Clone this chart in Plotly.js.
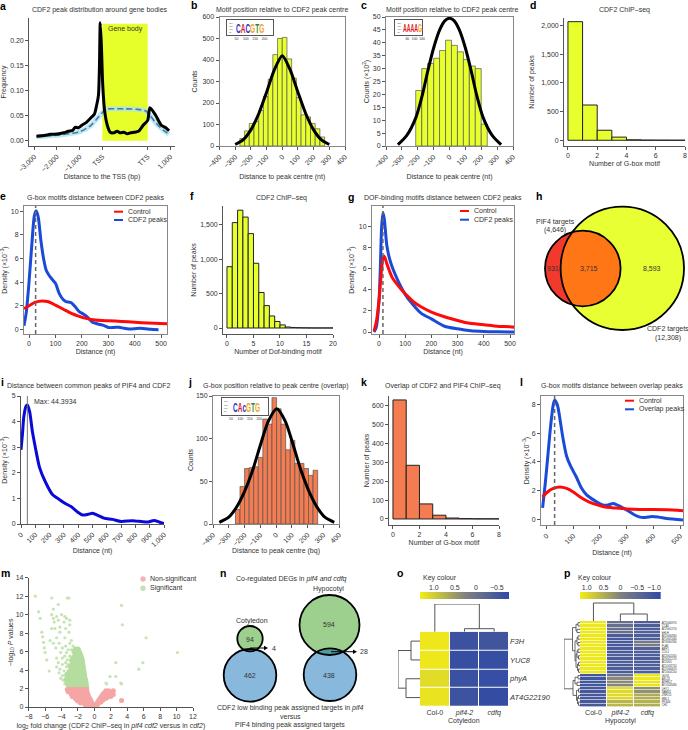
<!DOCTYPE html>
<html>
<head>
<meta charset="utf-8">
<script src="https://cdn.plot.ly/plotly-3.0.1.min.js"></script>
<style>
body{margin:0;background:#fff}
</style>
</head>
<body>
<div id="fig" style="width:688px;height:730px"></div>
<script>
// a: peak distribution around gene bodies (TSS = 0, TTS = 2000)
var aX = [-2900,-2700,-2500,-2300,-2100,-1900,-1700,-1500,-1300,-1200,-1050,-900,-700,-500,-350,-250,-170,-125,-90,-40,20,100,220,350,500,650,800,950,1100,1250,1400,1600,1800,2000,2100,2350,2600,2800,2940];
var aPeaks = [.008,.009,.01,.012,.012,.013,.015,.018,.02,.026,.025,.03,.036,.045,.052,.07,.09,.15,.235,.19,.11,.06,.03,.016,.015,.018,.015,.016,.013,.015,.016,.018,.03,.04,.065,.05,.03,.025,.019];
var aGenesX = [-2900,-2000,-1500,-1000,-500,-200,0,150,500,1000,1500,1900,2100,2300,2500,2700,2940];
var aGenes = [.007,.01,.013,.017,.03,.045,.055,.062,.063,.063,.062,.059,.05,.038,.028,.02,.012];
// b: G-box position histogram
var bX = [-255,-225,-195,-165,-135,-105,-75,-45,-15,15,45,75,105,135,165,195,225,255];
var bCounts = [35,70,105,115,165,230,310,425,500,505,405,315,225,145,135,105,80,42];
var bFitX = [-300,-250,-200,-150,-100,-50,0,50,100,150,200,250,300];
var bFit = [7,28,75,150,250,355,420,355,250,150,75,28,7];
// c: DOF motif histogram
var cX = [-194,-156,-119,-81,-44,-6,31,69,106,144,181,219];
var cCounts = [21.5,30,32,34,37,41,39,36.5,33.5,31,30,8.5];
var cFitX = [-325,-270,-212,-170,-137,-100,-62,-30,0,30,62,100,137,170,212,270,325];
var cFit = [.5,4,11,20,29,38,45,48.5,49.5,48.5,45,38,29,20,11,4,.5];
// d, f, k: motif counts per peak
var dX = [.5,1.5,2.5,3.5,4.5,5.5,6.5,7.5];
var dCounts = [2070,615,175,55,8,3,2,1];
var fX = [.5,1.5,2.5,3.5,4.5,5.5,6.5,7.5,8.5,9.5,10.5,11.5,12.5,13.5,14.5,15.5,16.5,17.5,18.5,19.5];
var fCounts = [890,1530,1710,1610,1370,940,515,325,175,95,45,15,8,5,3,2,1,1,1,1];
var kX = [.5,1.5,2.5,3.5,4.5,5.5,6.5,7.5];
var kCounts = [632,285,80,20,5,2,1,1];
// e: G-box distances
var eBlueX = [-19,-10,0,10,20,27,35,45,55,65,75,85,100,115,130,140,160,175,190,205,220,240,260,280,300,320,340,360,380,400,420,440,460,490];
var eBlue = [.3,1.5,4,7,9.6,10.05,9.5,7.5,6,5,4.6,4.3,3.9,3,2.5,2.35,2.25,1.9,1.5,1.3,1.05,.6,.45,.35,.15,.15,.18,.08,.03,.05,.08,.05,0,-.03];
var eRedX = [-19,0,25,50,70,100,130,160,190,220,250,300,350,400,450,522];
var eRed = [1.75,2,2.3,2.4,2.35,2.05,1.7,1.35,1.1,.9,.78,.72,.67,.6,.53,.47];
var ePeak = 25;
// g: DOF distances
var gBlueX = [-19,-10,0,5,10,15,20,30,40,50,70,90,110,130,160,200,250,300,350,400,450,520];
var gBlue = [0,.5,3,6,10,11.35,10.8,8.2,7,6.2,5,4,3.2,2.6,1.8,1.25,.55,.3,.12,.05,.02,0];
var gRedX = [-19,-10,0,5,10,15,20,30,40,50,70,90,110,130,160,200,250,300,340,400,450,500,520];
var gRed = [.1,1,3,4.5,6,7,7.2,6.5,5.8,5.2,4.5,3.9,3.4,2.9,2.4,1.9,1.45,1.1,.85,.7,.55,.5,.45];
var gPeak = 15;
// i: common peaks of PIF4 and CDF2
var iX = [0,10,20,35,44,60,80,100,130,170,220,270,310,350,400,430,470,500,540,580,640,700,780,850,890,930,970,1000];
var iDensity = [2.9,3.5,4.2,4.6,4.65,4.4,3.6,3,2.2,1.65,1.15,.95,.8,.68,.45,.35,.38,.42,.33,.23,.18,.1,.13,.09,.08,.14,.07,.02];
var iMax = 44.3934;
// j: overlap G-box histogram
var jX = [-243,-214,-185,-156,-127,-98,-69,-40,-11,18,47,76,105,134,163,192,221,250];
var jCounts = [17,44,65,66,67,78,123,117,148,135,117,87,98,71,71,65,57,63];
var jFitX = [-360,-300,-250,-200,-150,-100,-50,5,60,110,160,210,260,310,370];
var jFit = [2,8,20,38,62,92,120,135,120,92,62,38,20,8,2];
// l: overlap distances
var lBlueX = [-15,-5,5,15,25,30,40,50,60,75,90,110,130,150,180,210,230,250,270,300,330,350,370,395,420,450,480,511];
var lBlue = [.8,2.5,4.5,6.5,8,8.3,8,7,5.8,4.4,3.7,3,2.2,1.7,1.3,1,1,1.1,.95,.65,.3,.15,.13,.2,.15,.05,0,-.05];
var lRedX = [-15,0,25,50,75,100,130,160,190,220,260,300,350,400,450,511];
var lRed = [1.55,1.85,2.15,2.25,2.15,1.9,1.5,1.2,1,.85,.78,.72,.68,.68,.66,.6];
var lPeak = 30;
// m: volcano, rows of [-log10 P, fold changes]
var sigCore = [
  [2.05,[-.95,-1.2,-1.45,-1.7,-1.95,-2.2,-2.45,-2.7,-2.95]],
  [2.35,[-1,-1.3,-1.55,-1.85,-2.1,-2.35,-2.6,-2.9,-3.15]],
  [2.65,[-1.05,-1.35,-1.6,-1.9,-2.15,-2.4,-2.7,-3,-3.3]],
  [2.95,[-1.1,-1.4,-1.7,-1.95,-2.25,-2.5,-2.8,-3.1,-3.4]],
  [3.25,[-1.2,-1.45,-1.75,-2,-2.3,-2.6,-2.85,-3.2]],
  [3.55,[-1.25,-1.5,-1.8,-2.1,-2.35,-2.65,-2.95,-3.3]],
  [3.85,[-1.3,-1.55,-1.85,-2.15,-2.45,-2.7,-3.05]],
  [4.15,[-1.35,-1.6,-1.9,-2.2,-2.5,-2.8]],
  [4.45,[-1.4,-1.7,-2,-2.3,-2.6,-2.9]],
  [4.75,[-1.45,-1.75,-2.05,-2.35,-2.65]],
  [5.05,[-1.5,-1.8,-2.1,-2.4,-2.75]],
  [5.35,[-1.6,-1.9,-2.2,-2.55]],
  [5.65,[-1.7,-2,-2.3]],
  [5.95,[-1.85,-2.15,-2.45]],
  [6.25,[-2,-2.3]]
];
var sigSparse = [
  [2.5,[1.5,-3.6,3.3]],[2.6,[1.4,3.2]],[2.9,[-3.8]],[3.1,[-4.1]],[3.3,[1.9,2.6]],[3.4,[-3.9,-3.6]],[3.7,[-4.3]],[3.9,[-3.7,-5.5]],
  [4.1,[5.4,-4.2]],[4.35,[-3.4,-4.6]],[4.6,[-3.2,-3.9]],[4.8,[2.6,5.9,-4.4,-3.5]],[5.1,[-5.8,-3.3]],[5.3,[-3.9,-4.6]],[5.5,[-3,-3.6]],
  [5.9,[-6,10.1,-3.4,-4.1]],[6.2,[-2.8,-3.2]],[6.4,[-6.1,-3.9,-4.7]],[6.6,[-2.6,-3.5]],[6.9,[-3,-5,-4.3]],[7,[-6.2]],[7.2,[-2.8,-5.4]],
  [7.5,[6.3,-3.6,-4.6]],[7.6,[-6.3]],[8.1,[-6.4,-3.1,-4.2]],[8.5,[-5.2,-4.8,-3.5]],[8.65,[-4.2]],[8.9,[3.4,-3]],[9.2,[-3.7,-4.9]],
  [9.4,[-3,-4.4]],[9.6,[-6.6,-5,-3.4]],[9.8,[-3.6,-4.6]],[10,[-4,-5.2]],[10.3,[-6.8]],[10.6,[-5]],[11,[3.3]],[11.1,[-4.4]],[11.8,[-5.2,-3.3,-3.1]],[12,[-7.2]]
];
var nonSigRows = [
  [.05,[-.05,-.2,-.35,.05,.2]],
  [.15,[.15,.3]],
  [.22,[-.15,-.35,-.6,-.85,-1.1]],
  [.35,[.25,.45]],
  [.42,[-.3,-.5,-.8,-1.1,-1.4,-1.7]],
  [.55,[.4,.65,.8]],
  [.65,[-.4,-.65,-.95,-1.25,-1.55,-1.85,-2.05]],
  [.7,[3.3]],
  [.75,[.55,.8,1.05]],
  [.9,[-.55,-.85,-1.1,-1.4,-1.7,-2,-2.3]],
  [.95,[.7,.95,1.2,1.45]],
  [1.15,[-.7,-.95,-1.25,-1.55,-1.85,-2.15,-2.45,-2.7,.85,1.1,1.4,1.7,2]],
  [1.35,[1,1.3,1.6,1.9,2.3]],
  [1.4,[-.8,-1.05,-1.35,-1.65,-1.95,-2.25,-2.55,-2.85]],
  [1.55,[1.2,1.5,1.8,2.15]],
  [1.65,[-.9,-1.15,-1.45,-1.75,-2.05,-2.35,-2.65,-2.95,-3.2]],
  [1.75,[1.4,1.75,2.3]],
  [1.9,[-.95,-1.2,-1.45,-1.7,-2,-2.25,-2.5,-2.75,-3,-3.3]]
];
// o, p: heatmaps
var samples = ['Col-0','<i>pif4-2</i>','<i>cdfq</i>'];
var oGenes = ['<i>F3H</i>','<i>YUC8</i>','<i>phyA</i>','<i>AT4G22190</i>'];
var oValues = [[1.28,-.62,-.55],[1.28,-.68,-.68],[1.17,-.65,-.7],[1.25,-.6,-.72]];
var oKey = [1.33,.27,-.79];
var oKeyTicks = [1,.5,0,-.5];
var oKeyLabels = ['1.0','0.5','0','\u22120.5'];
var pGenes = ['AT2G46970','CCA1','AT2G01570','bHLH','AT2G46830','AT1G01060','AT3G60390','FLA3','ABF1','COL1','AT2G02450','AT3G22170','AT2G01','AT1G18710','AT2G46670','AT1G04250','GUS1','ASL31','ATHB17','AT1G28480','LHY1','NAM61','ZNF211','MBL1','PKS44','CH2'];
var pValues = [
  [1.15,-.35,-.75],[1.15,-.4,-.75],[1.15,-.35,-.75],[1.15,-.4,-.7],[1.15,-.8,-.75],[1.15,-.85,-.75],
  [1.15,-.85,-.15],[1.15,-.85,-.1],[1.15,-.8,-.7],[1.15,-.85,-.75],[1.15,-.7,-.75],[1.15,-.8,-.8],
  [1.15,-.75,-.8],[1.15,-.8,-.75],[1.15,-.75,-.75],[1.15,-.8,-.75],
  [-.9,-.3,1.15],[-.9,.1,1.15],[-.9,.1,1.1],[-.9,.05,1.1],
  [-.85,1.05,.15],[-.85,1,.2],[-.85,1,.5],[-.85,.95,.5],[-.85,.6,.55],[-.85,.6,.5]
];
var pKey = [1.2,0,-1.2];
var pKeyTicks = [1,.5,0,-.5,-1];
var pKeyLabels = ['1.0','0.5','0','\u22120.5','\u22121.0'];
// dendrogram merges: [posA, heightA, posB, heightB, mergeHeight]
var oColTree = [[1,0,2,0,3],[0,0,1.5,3,27.7]];
var oRowTree = [[0,0,1,0,9],[2,0,3,0,14],[.5,9,2.5,14,22]];
var pColTree = [[1,0,2,0,7],[0,0,1.5,7,18]];
var pRowTree = [
  [0,0,1,0,2],[2,0,3,0,3],[.5,2,2.5,3,4],[4,0,5,0,2],[6,0,7,0,2],[4.5,2,6.5,2,3],
  [8,0,9,0,2],[10,0,11,0,1.5],[8.5,2,10.5,1.5,3],[12,0,13,0,1.5],[14,0,15,0,1.5],
  [12.5,1.5,14.5,1.5,2.5],[9.5,3,13.5,2.5,4],[5.5,3,11.5,4,5],[1.5,4,8.5,5,7.5],
  [16,0,17,0,2],[18,0,19,0,3],[16.5,2,18.5,3,5],[20,0,21,0,1.5],[22,0,23,0,1.5],[24,0,25,0,1.5],
  [22.5,1.5,24.5,1.5,2.5],[20.5,1.5,23.5,2.5,3.5],[17.5,5,22,3.5,7],[5,7.5,20,7,16]
];
// motif logos
var logoB = ['C','A','C','G','T','G'];
var logoC = ['A','A','A','A','G'];
var logoJ = ['C','A','c','G','T','G'];

var W = 688, H = 730;
var YELLOW = '#e8ff2e', ORANGE = '#f47c50', INK = '#333333';
var RED = '#ff0a0a', BLUE = '#1a4ad8';
var FONT = 'Liberation Sans';
var traces = [], shapes = [], annotations = [];
var layout = {
  width: W, height: H, autosize: false, showlegend: false,
  margin: {l: 0, r: 0, t: 0, b: 0},
  paper_bgcolor: '#fff', plot_bgcolor: 'rgba(0,0,0,0)',
  separators: '.,',
  font: {family: FONT, size: 7, color: INK}
};

function axis(letter, n, from, to, o) {
  var a = {
    domain: letter == 'x' ? [from / W, to / W] : [1 - to / H, 1 - from / H],
    anchor: (letter == 'x' ? 'y' : 'x') + n,
    range: o.range, tickvals: o.tickvals, ticktext: o.ticktext,
    tickangle: o.tickangle === undefined ? 0 : o.tickangle,
    ticks: 'outside', ticklen: 3, tickwidth: .7, tickcolor: '#555',
    tickfont: {size: o.tickSize || 7, color: INK}, tickformat: o.tickformat,
    showgrid: false, zeroline: false, showline: true, linecolor: o.frame ? '#888' : '#555',
    linewidth: o.frame ? 1 : .7, mirror: !!o.frame, layer: 'above traces', automargin: false
  };
  if (o.title) a.title = {text: o.title, standoff: o.standoff, font: {size: 7, color: INK}};
  return a;
}
function panel(n, box, xo, yo) {
  layout['xaxis' + n] = axis('x', n, box[0], box[1], xo);
  layout['yaxis' + n] = axis('y', n, box[2], box[3], yo);
}
function line(n, x, y, color, width, dash) {
  traces.push({type: 'scatter', mode: 'lines', x: x, y: y, xaxis: 'x' + n, yaxis: 'y' + n,
    line: {color: color, width: width, shape: 'spline', smoothing: .7, dash: dash}, hoverinfo: 'skip'});
}
function bars(n, x, y, w, color, edge, ew) {
  traces.push({type: 'bar', x: x, y: y, width: w, xaxis: 'x' + n, yaxis: 'y' + n,
    marker: {color: color, line: {color: edge, width: ew}}, hoverinfo: 'skip'});
}
function text(t, x, y, o) {
  o = o || {};
  annotations.push({text: t, x: x / W, y: 1 - y / H, xref: 'paper', yref: 'paper', showarrow: false,
    xanchor: o.anchor || 'center', yanchor: 'middle',
    font: {size: o.size || 7, color: o.color || INK, family: FONT}});
}
function segment(x0, y0, x1, y1, color, width) {
  shapes.push({type: 'line', xref: 'paper', yref: 'paper', x0: x0 / W, x1: x1 / W, y0: 1 - y0 / H, y1: 1 - y1 / H,
    line: {color: color, width: width}});
}
function circle(cx, cy, r, fill, stroke, sw) {
  shapes.push({type: 'circle', xref: 'paper', yref: 'paper', x0: (cx - r) / W, x1: (cx + r) / W,
    y0: 1 - (cy - r) / H, y1: 1 - (cy + r) / H, fillcolor: fill, line: {color: stroke, width: sw}});
}
// area shared by two circles, as a polygon
function lens(c1, c2, fill) {
  var dx = c2[0] - c1[0], dy = c2[1] - c1[1], d = Math.sqrt(dx * dx + dy * dy);
  var base = Math.atan2(dy, dx), pts = [];
  var a1 = Math.acos((d * d + c1[2] * c1[2] - c2[2] * c2[2]) / (2 * d * c1[2]));
  var a2 = Math.acos((d * d + c2[2] * c2[2] - c1[2] * c1[2]) / (2 * d * c2[2]));
  for (var i = 0; i <= 30; i++) {
    var t = base - a1 + 2 * a1 * i / 30;
    pts.push([c1[0] + c1[2] * Math.cos(t), c1[1] + c1[2] * Math.sin(t)]);
  }
  for (var j = 0; j <= 30; j++) {
    var u = base + Math.PI - a2 + 2 * a2 * j / 30;
    pts.push([c2[0] + c2[2] * Math.cos(u), c2[1] + c2[2] * Math.sin(u)]);
  }
  var path = pts.map(function (p, k) { return (k ? 'L' : 'M') + (p[0] / W) + ',' + (1 - p[1] / H); }).join(' ') + ' Z';
  shapes.push({type: 'path', xref: 'paper', yref: 'paper', path: path, fillcolor: fill, line: {width: 0}});
}
function arrow(x0, x1, y) {
  segment(x0, y, x1 - 2, y, '#000', 1);
  var tip = 'M' + (x1 / W) + ',' + (1 - y / H) + ' L' + ((x1 - 4) / W) + ',' + (1 - (y - 2.2) / H) + ' L' + ((x1 - 4) / W) + ',' + (1 - (y + 2.2) / H) + ' Z';
  shapes.push({type: 'path', xref: 'paper', yref: 'paper', path: tip, fillcolor: '#000', line: {width: 0}});
}
function legendRow(x0, x1, y, color, t) {
  segment(x0, y, x1, y, color, 2);
  text(t, x1 + 2.5, y, {anchor: 'left', size: 7});
}
function dendro(n, tree, vertical, color, width) {
  // vertical: merge height on y (column tree); otherwise on x (row tree)
  var a = [], b = [];
  tree.forEach(function (m) {
    a.push(m[0], m[0], m[2], m[2], null);
    b.push(m[1], m[4], m[4], m[3], null);
  });
  traces.push({type: 'scatter', mode: 'lines', x: vertical ? a : b, y: vertical ? b : a,
    xaxis: 'x' + n, yaxis: 'y' + n, line: {color: color, width: width}, hoverinfo: 'skip', connectgaps: false});
}
function hidden(n, box, xr, yr) {
  panel(n, box, {range: xr}, {range: yr});
  layout['xaxis' + n].visible = false;
  layout['yaxis' + n].visible = false;
}
function logo(n, box, xr, ticks, letters, centre, size) {
  panel(n, box, {range: xr, tickvals: ticks, frame: true, tickSize: 3.4}, {range: [0, 2], tickvals: [.4, .8, 1.2, 1.6], ticktext: ['50', '100', '150', '200'], frame: true, tickSize: 1.9});
  var xa = layout['xaxis' + n], ya = layout['yaxis' + n];
  xa.ticklen = 0; ya.ticklen = 0; ya.ticklabelposition = 'inside';
  xa.linecolor = ya.linecolor = '#555';
  var word = letters.map(function (l) {
    return '<span style="color:' + BASE[l.toUpperCase()] + '">' + l + '</span>';
  }).join('');
  annotations.push({text: '<b>' + word + '</b>', x: centre, y: 1, xref: 'x' + n, yref: 'y' + n, showarrow: false,
    font: {size: size, family: FONT}});
}
var BASE = {A: '#e01b1b', C: '#1f2fd0', G: '#f5a21e', T: '#1e8f3a'};
var ROT = -45;
var hist400 = [-400, -300, -200, -100, 0, 100, 200, 300, 400];
var dist = [0, 100, 200, 300, 400, 500];
var heatScale = [[0, '#2f49a6'], [.5, '#808080'], [1, '#f2ec17']];

// a
panel(1, [29, 175, 18, 146],
  {range: [-3229, 3203], tickvals: [-3000, -2000, -1000, 0, 2000, 3000], ticktext: ['\u22123,000', '\u22122,000', '\u22121,000', 'TSS', 'TTS', '1,000'], tickangle: ROT, title: 'Distance to the TSS (bp)', standoff: 1},
  {range: [-.0114, .2446], tickvals: [0, .05, .1, .15, .2], tickformat: '.2f', title: 'Frequency', standoff: 7});
shapes.push({type: 'rect', xref: 'x1', yref: 'y1', x0: 0, x1: 2000, y0: -.001, y1: .233, fillcolor: '#e6ff2a', line: {width: 0}, layer: 'below'});
line(1, aGenesX, aGenes, 'rgba(175,225,240,.8)', 5);
line(1, aGenesX, aGenes, '#3f7ea6', 1.6, '6px,3px');
line(1, aX, aPeaks, '#000', 3);
text('Gene body', 125, 28.7, {size: 7});
text('CDF2 peak distribution around gene bodies', 99.5, 10);

// b
panel(2, [219.5, 345, 17, 146],
  {range: [-400, 400], tickvals: hist400, tickangle: ROT, frame: true, title: 'Distance to peak centre (nt)', standoff: 5},
  {range: [0, 600], tickvals: [0, 100, 200, 300, 400, 500, 600], frame: true, title: 'Counts', standoff: 3});
bars(2, bX, bCounts, 30, YELLOW, '#555', .7);
line(2, bFitX, bFit, '#000', 3);
text('Motif position relative to CDF2 peak centre', 282, 9.7);

// c
panel(3, [386, 513, 17, 146],
  {range: [-400, 400], tickvals: hist400, tickangle: ROT, frame: true, title: 'Distance to peak centre (nt)', standoff: 5},
  {range: [0, 50], tickvals: [0, 5, 10, 15, 20, 25, 30, 35, 40, 45, 50], frame: true, title: 'Counts (\u00d710<sup>2</sup>)', standoff: 2});
bars(3, cX, cCounts, 37.5, YELLOW, '#555', .7);
line(3, cFitX, cFit, '#000', 3);
text('Motif position relative to CDF2 peak centre', 452, 10);

// d
panel(4, [564, 685, 18, 146],
  {range: [-.27, 8], tickvals: [0, 2, 4, 6, 8], title: 'Number of G-box motif', standoff: 2},
  {range: [-100, 2134], tickvals: [0, 500, 1000, 1500, 2000], tickformat: ',', title: 'Number of peaks', standoff: 5});
bars(4, dX, dCounts, 1, YELLOW, '#222', 1);
text('CDF2 ChIP\u2013seq', 624, 10);

// e
panel(5, [24, 167, 206, 334],
  {range: [-19, 522], tickvals: dist, frame: true, title: 'Distance (nt)', standoff: 2},
  {range: [-.4, 10.45], tickvals: [0, 2, 4, 6, 8, 10], frame: true, title: 'Density (\u00d710<sup>\u22123</sup>)', standoff: 5});
shapes.push({type: 'line', xref: 'x5', yref: 'y5', x0: ePeak, x1: ePeak, y0: -.4, y1: 10.45, line: {color: '#666', width: 1.5, dash: '4px,3px'}});
line(5, eBlueX, eBlue, BLUE, 3);
line(5, eRedX, eRed, RED, 3);
legendRow(114, 123, 211.7, RED, 'Control');
legendRow(114, 123, 220, BLUE, 'CDF2 peaks');
text('G-box motifs distance between CDF2 peaks', 95, 198);

// f
panel(6, [223, 333, 206, 334],
  {range: [-.75, 20], tickvals: [0, 5, 10, 15, 20], title: 'Number of Dof-binding motif', standoff: 2},
  {range: [-87, 1771], tickvals: [0, 500, 1000, 1500], tickformat: ',', title: 'Number of peaks', standoff: 2});
bars(6, fX, fCounts, 1, YELLOW, '#222', 1);
text('CDF2 ChIP\u2013seq', 281, 198);

// g
panel(7, [372, 514, 206, 334],
  {range: [-26.7, 515], tickvals: dist, frame: true, title: 'Distance (nt)', standoff: 2},
  {range: [-.19, 11.99], tickvals: [0, 2, 4, 6, 8, 10], frame: true, title: 'Density (\u00d710<sup>\u22123</sup>)', standoff: 3});
shapes.push({type: 'line', xref: 'x7', yref: 'y7', x0: gPeak, x1: gPeak, y0: -.19, y1: 11.99, line: {color: '#666', width: 1.5, dash: '4px,3px'}});
line(7, gBlueX, gBlue, BLUE, 3);
line(7, gRedX, gRed, RED, 3);
legendRow(460, 469, 211, RED, 'Control');
legendRow(460, 469, 219.7, BLUE, 'CDF2 peaks');
text('DOF-binding motifs distance between CDF2 peaks', 443, 198);

// h
var hBig = [622.3, 268.3, 61.7], hSmall = [582.8, 268.5, 37.8];
circle(hSmall[0], hSmall[1], hSmall[2], '#f23a2c', '#000', 0);
circle(hBig[0], hBig[1], hBig[2], '#e8ff33', '#000', 0);
lens(hSmall, hBig, '#ff7617');
circle(hSmall[0], hSmall[1], hSmall[2], 'rgba(0,0,0,0)', '#000', 1.8);
circle(hBig[0], hBig[1], hBig[2], 'rgba(0,0,0,0)', '#000', 1.8);
text('931', 553, 268);
text('3,715', 589, 268);
text('8,593', 652, 268);
text('PIF4 targets', 555, 222);
text('(4,646)', 555, 230);
text('CDF2 targets', 668, 329);
text('(12,308)', 668, 338);

// i
panel(8, [21, 164, 396, 524],
  {range: [0, 1000], tickvals: [0, 100, 200, 300, 400, 500, 600, 700, 800, 900, 1000], tickformat: ',', tickangle: ROT, title: 'Distance (nt)', standoff: 0},
  {range: [0, 5], tickvals: [0, 1, 2, 3, 4, 5], title: 'Density (\u00d710<sup>\u22123</sup>)', standoff: 5});
shapes.push({type: 'line', xref: 'x8', yref: 'y8', x0: iMax, x1: iMax, y0: 0, y1: 5, line: {color: '#777', width: 1}});
line(8, iX, iDensity, '#0a0ad8', 3);
text('Max: ' + iMax, 32, 402, {anchor: 'left'});
text('Distance between common peaks of PIF4 and CDF2', 89, 386);

// j
panel(9, [213, 339, 396, 524],
  {range: [-400, 400], tickvals: hist400, tickangle: ROT, frame: true, title: 'Distance to peak centre (bq)', standoff: 0},
  {range: [0, 150], tickvals: [0, 50, 100, 150], frame: true, title: 'Counts', standoff: 1});
bars(9, jX, jCounts, 29, ORANGE, '#555', .7);
line(9, jFitX, jFit, '#000', 3);
text('G-box position relative to peak centre (overlap)', 276, 386);

// k
panel(10, [389, 499, 396, 525],
  {range: [-.3, 8], tickvals: [0, 2, 4, 6, 8], title: 'Number of G-box motif', standoff: 2},
  {range: [-32, 653], tickvals: [0, 100, 200, 300, 400, 500, 600], title: 'Number of peaks', standoff: 1});
bars(10, kX, kCounts, 1, ORANGE, '#222', 1);
text('Overlap of CDF2 and PIF4 ChIP\u2013seq', 443, 386);

// l
panel(11, [541, 683, 396, 525],
  {range: [-21, 511], tickvals: dist, tickangle: ROT, frame: true, title: 'Distance (nt)', standoff: 5},
  {range: [-.4, 8.6], tickvals: [0, 2, 4, 6, 8], frame: true, title: 'Density (\u00d710<sup>\u22123</sup>)', standoff: 1});
shapes.push({type: 'line', xref: 'x11', yref: 'y11', x0: lPeak, x1: lPeak, y0: -.4, y1: 8.6, line: {color: '#666', width: 1.5, dash: '4px,3px'}});
line(11, lBlueX, lBlue, BLUE, 3);
line(11, lRedX, lRed, RED, 3);
legendRow(625, 634, 400.7, RED, 'Control');
legendRow(625, 634, 409.3, BLUE, 'Overlap peaks');
text('G-box motifs distance between overlap peaks', 612, 386);

// m
function flatten(rows) {
  var x = [], y = [];
  rows.forEach(function (r) { r[1].forEach(function (v) { x.push(v); y.push(r[0]); }); });
  return {x: x, y: y};
}
panel(12, [28.7, 193, 577.7, 707],
  {range: [-8, 12], tickvals: [-8, -6, -4, -2, 0, 2, 4, 6, 8, 10, 12], title: 'log<sub>2</sub> fold change (CDF2 ChIP\u2013seq in <i>pif4 cdf2</i> versus in <i>cdf2</i>)', standoff: 4},
  {range: [0, 14], tickvals: [0, 2, 4, 6, 8, 10, 12, 14], title: '\u2212log<sub>10</sub> <i>P</i> values', standoff: 1});
[[flatten(sigSparse), '#c6e4b4', 3.2], [flatten(sigCore), '#b5dda0', 5.5], [flatten(nonSigRows), '#f6a5a5', 5]].forEach(function (s) {
  traces.push({type: 'scatter', mode: 'markers', x: s[0].x, y: s[0].y, xaxis: 'x12', yaxis: 'y12',
    marker: {size: s[2], color: s[1], line: {width: 0}}, hoverinfo: 'skip'});
});
circle(143, 579, 2.7, '#f6b4b4', '#fff', 0);
circle(143, 588.3, 2.7, '#c4e3b0', '#fff', 0);
text('Non-significant', 148, 579, {anchor: 'left'});
text('Significant', 148, 588.3, {anchor: 'left'});

// n
var nGreen1 = [250, 638.7, 12.7], nBlue1 = [250, 675.3, 26.3], nGreen2 = [329.5, 625, 30], nBlue2 = [330, 674.7, 26.3];
[[nGreen1, nBlue1], [nGreen2, nBlue2]].forEach(function (p) {
  circle(p[0][0], p[0][1], p[0][2], '#9dd08e', '#000', 0);
  circle(p[1][0], p[1][1], p[1][2], '#88b9dd', '#000', 0);
  lens(p[0], p[1], '#4f9c9e');
  circle(p[0][0], p[0][1], p[0][2], 'rgba(0,0,0,0)', '#000', 1.8);
  circle(p[1][0], p[1][1], p[1][2], 'rgba(0,0,0,0)', '#000', 1.8);
});
arrow(250, 268, 648);
arrow(331, 357, 651.7);
text('4', 274, 648);
text('28', 363.5, 651.7);
text('94', 250, 639);
text('462', 250, 675.5);
text('594', 329, 624.5);
text('438', 329, 675.5);
text('Cotyledon', 252, 620.7);
text('Hypocotyl', 328, 589);
text('Co-regulated DEGs in <i>pif4 and cdfq</i>', 291, 579);
text('CDF2 low binding peak assigned targets in <i>pif4</i>', 290, 708);
text('versus', 290, 716.5);
text('PIF4 binding peak assigned targets', 290, 724.5);

// o
function keyBar(n, box, key, ticks, labels) {
  panel(n, box, {range: [key[0], key[2]], tickvals: ticks, ticktext: labels}, {range: [0, 1]});
  var xa = layout['xaxis' + n], ya = layout['yaxis' + n];
  xa.side = 'top'; xa.ticks = ''; xa.showline = false;
  ya.visible = false;
  traces.push({type: 'heatmap', x: key, y: [.5], z: [key], xaxis: 'x' + n, yaxis: 'y' + n, zsmooth: 'best',
    colorscale: heatScale, zmin: key[2], zmax: key[0], showscale: false, hoverinfo: 'skip'});
}
function heat(n, box, values, rows, key, rowSize) {
  panel(n, box, {tickvals: [0, 1, 2], ticktext: samples, range: [-.5, 2.5]},
    {range: [rows.length - .5, -.5], tickvals: rows.map(function (r, i) { return i; }), ticktext: rows, tickSize: rowSize});
  var xa = layout['xaxis' + n], ya = layout['yaxis' + n];
  xa.ticks = ''; xa.showline = false; ya.ticks = ''; ya.showline = false; ya.side = 'right';
  traces.push({type: 'heatmap', z: values, xaxis: 'x' + n, yaxis: 'y' + n, xgap: 1, ygap: rows.length > 10 ? .6 : 1,
    colorscale: heatScale, zmin: key[2], zmax: key[0], showscale: false, hoverinfo: 'skip'});
}
keyBar(13, [420, 509, 592, 599], oKey, oKeyTicks, oKeyLabels);
heat(14, [420, 509, 631.7, 707], oValues, oGenes, oKey, 7.5);
hidden(15, [420, 509, 604, 631.7], [-.5, 2.5], [0, 27.7]);
dendro(15, oColTree, true, '#555', 1);
hidden(16, [398, 420, 631.7, 707], [22, 0], [3.5, -.5]);
dendro(16, oRowTree, false, '#555', 1);
text('Key colour', 421, 578, {anchor: 'left'});
text('Cotyledon', 464, 720.7);

// p
keyBar(17, [580, 660.7, 592, 599], pKey, pKeyTicks, pKeyLabels);
heat(18, [580, 660.7, 621, 707], pValues, pGenes, pKey, 2.8);
hidden(19, [580, 660.7, 600, 621], [-.5, 2.5], [0, 21]);
dendro(19, pColTree, true, '#555', 1);
hidden(20, [564, 580, 621, 707], [16, 0], [25.5, -.5]);
dendro(20, pRowTree, false, '#444', .8);
text('Key colour', 576, 578, {anchor: 'left'});
text('Hypocotyl', 620, 720.7);

// motif logos, one coloured word per inset
logo(21, [226.7, 273.3, 20, 35], [-2, 247], [50, 100, 150, 200], logoB, 124, 6.5);
logo(22, [395, 422, 20, 35], [-7, 140], [20, 60, 100, 140], logoC, 86, 5.2);
logo(23, [221.7, 268.3, 398.3, 415], [1, 248], [50, 100, 150, 200], logoJ, 134, 6.5);

// panel letters
[['a', 3, 6], ['b', 194, 5], ['c', 364, 5], ['d', 533, 5], ['e', 3, 196], ['f', 192, 196], ['g', 351, 197], ['h', 539, 196],
 ['i', 2, 382], ['j', 190, 382], ['k', 364, 382], ['l', 521, 382], ['m', 5, 573], ['n', 223, 573], ['o', 400, 573], ['p', 567, 573]]
  .forEach(function (p) { text('<b>' + p[0] + '</b>', p[1], p[2], {size: 10.5, color: '#000'}); });

layout.shapes = shapes;
layout.annotations = annotations;
Plotly.newPlot('fig', traces, layout, {displayModeBar: false, responsive: false}).then(function () {
  // motif letters in the reference are tall and narrow
  document.querySelectorAll('.annotation-text').forEach(function (t) {
    if (/^(CACGTG|AAAAG|CAcGTG)$/.test(t.textContent)) {
      t.style.transformBox = 'fill-box';
      t.style.transformOrigin = 'center';
      t.style.transform = 'scaleY(2.1)';
    }
  });
});
</script>
</body>
</html>
